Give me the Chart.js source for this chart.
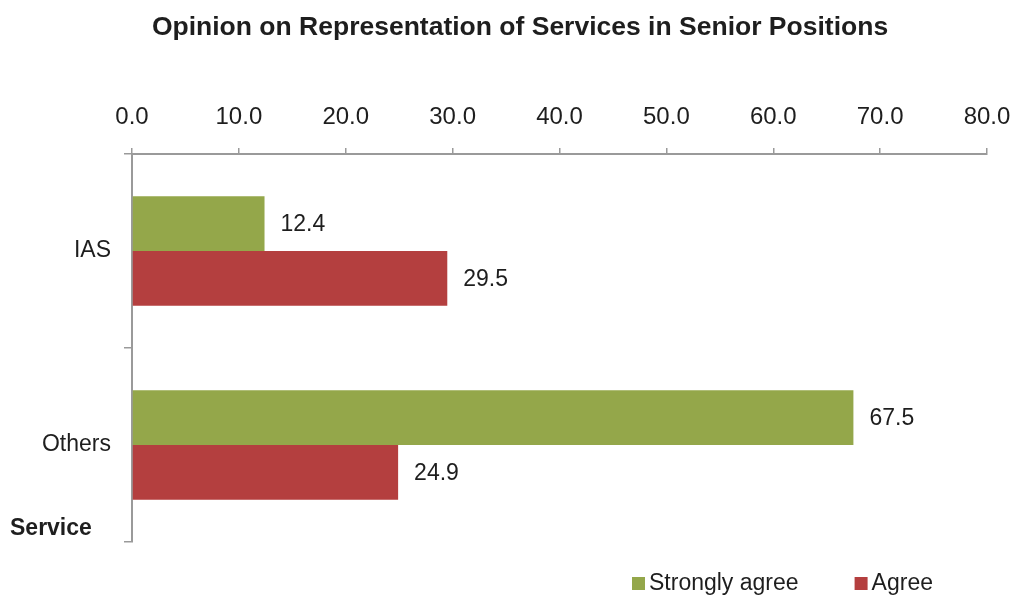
<!DOCTYPE html>
<html>
<head>
<meta charset="utf-8">
<script src="https://cdn.jsdelivr.net/npm/chart.js@4.4.1/dist/chart.umd.min.js"></script>
<style>
  html, body { margin: 0; padding: 0; background: #fff; }
</style>
</head>
<body>
<canvas id="myChart" width="1013" height="596"></canvas>
<script>
// survey data: share of respondents per service
const services = ['IAS', 'Others'];
const seriesNames = ['Strongly agree', 'Agree'];
const stronglyAgree = [12.4, 67.5];
const agree = [29.5, 24.9];
const seriesColors = ['#94a74a', '#b43f3f'];
const axisTicks = [0, 10, 20, 30, 40, 50, 60, 70, 80];

const FONT = '"Liberation Sans", Arial, sans-serif';
const TEXT = '#1e1e1e';
const AXIS = '#9a9a9a';

// title, axis caption, legend and value labels drawn on the canvas
const decor = {
  id: 'decor',
  afterDatasetsDraw(chart) {
    const ctx = chart.ctx;
    ctx.save();
    ctx.fillStyle = TEXT;
    ctx.textBaseline = 'middle';

    // value next to each bar
    ctx.font = '23px ' + FONT;
    ctx.textAlign = 'left';
    chart.data.datasets.forEach((ds, i) => {
      chart.getDatasetMeta(i).data.forEach((bar, j) => {
        ctx.fillText(ds.data[j].toFixed(1), bar.x + 16, bar.y + 1);
      });
    });

    // title
    ctx.font = 'bold 26.5px ' + FONT;
    ctx.textAlign = 'center';
    ctx.fillText('Opinion on Representation of Services in Senior Positions', 520, 28);

    // category axis caption
    ctx.font = 'bold 23px ' + FONT;
    ctx.textAlign = 'left';
    ctx.fillText('Service', 10, 529);

    // legend
    ctx.font = '23px ' + FONT;
    let x = 632;
    chart.data.datasets.forEach(ds => {
      ctx.fillStyle = ds.backgroundColor;
      ctx.fillRect(x, 577, 13, 13);
      ctx.fillStyle = TEXT;
      ctx.fillText(ds.label, x + 17, 584);
      x += 17 + ctx.measureText(ds.label).width + 56;
    });
    ctx.restore();
  }
};

const config = {
  type: 'bar',
  data: {
    labels: services,
    datasets: [
      { label: seriesNames[0], data: stronglyAgree, backgroundColor: seriesColors[0] },
      { label: seriesNames[1], data: agree, backgroundColor: seriesColors[1] }
    ]
  },
  options: {
    indexAxis: 'y',
    responsive: false,
    animation: false,
    layout: { padding: { top: 90, right: 26, bottom: 54, left: 0 } },
    datasets: { bar: { categoryPercentage: 0.565, barPercentage: 1.0 } },
    plugins: {
      legend: { display: false },
      title: { display: false },
      tooltip: { enabled: false }
    },
    scales: {
      x: {
        position: 'top',
        min: axisTicks[0],
        max: axisTicks[axisTicks.length - 1],
        afterBuildTicks: scale => { scale.ticks = axisTicks.map(v => ({ value: v })); },
        afterFit: scale => {
          scale.height = 64;
          scale.paddingLeft = 0;
          scale.paddingRight = 0;
        },
        grid: { drawOnChartArea: false, drawTicks: true, tickLength: 6, color: AXIS, lineWidth: 1.5 },
        border: { display: true, color: AXIS, width: 2 },
        ticks: {
          padding: 16,
          color: TEXT,
          font: { family: FONT, size: 24 },
          callback: v => Number(v).toFixed(1)
        }
      },
      y: {
        afterFit: scale => { scale.width = 132; },
        grid: { offset: true, drawOnChartArea: false, drawTicks: true, tickLength: 8, color: AXIS, lineWidth: 1.5 },
        border: { display: true, color: AXIS, width: 2 },
        ticks: {
          padding: 13,
          color: TEXT,
          font: { family: FONT, size: 23 }
        }
      }
    }
  },
  plugins: [decor]
};

const myChart = new Chart(document.getElementById('myChart').getContext('2d'), config);
</script>
</body>
</html>
